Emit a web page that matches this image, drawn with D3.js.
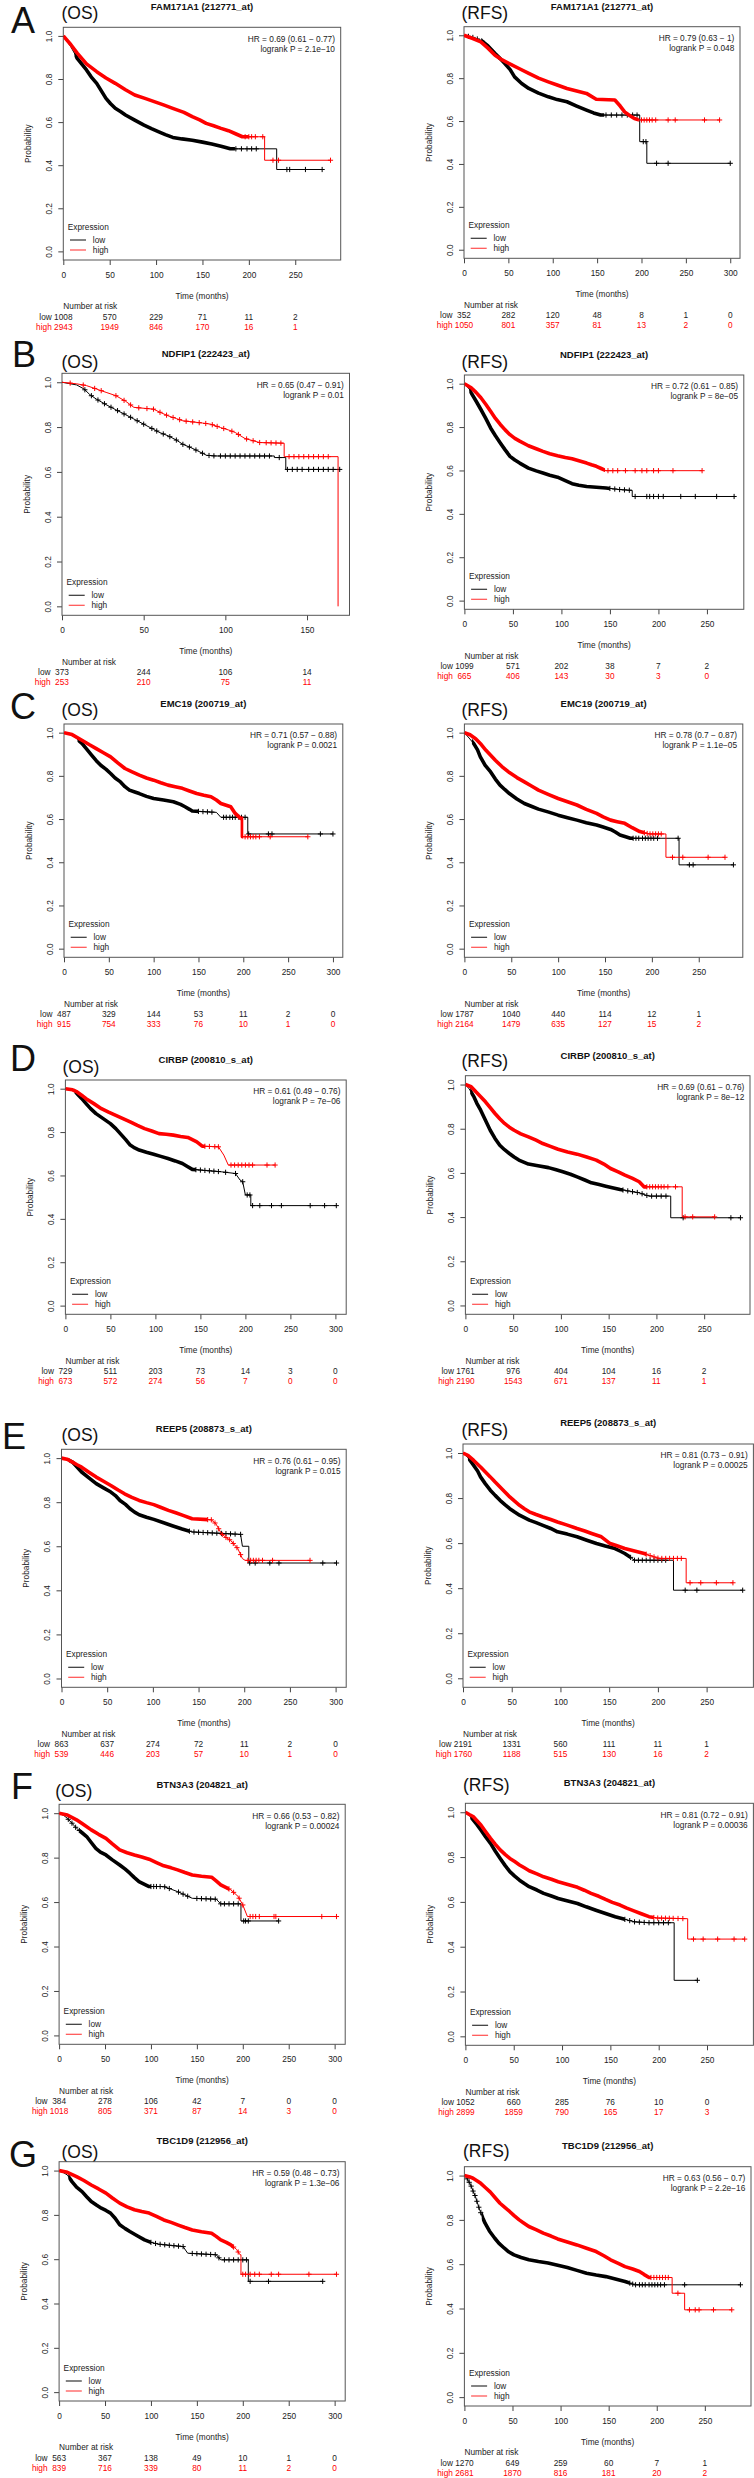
<!DOCTYPE html>
<html><head><meta charset="utf-8">
<script src="https://cdn.jsdelivr.net/npm/d3@7"></script>
<style>
body{margin:0;background:#fff}
svg{display:block}
text{font-family:"Liberation Sans",Arial,Helvetica,sans-serif}
</style>
</head><body>
<svg id="chart" width="754" height="2478"></svg>
<script>
// ---------------- DATA ----------------
const genes = ["FAM171A1 (212771_at)","NDFIP1 (222423_at)","EMC19 (200719_at)","CIRBP (200810_s_at)","REEP5 (208873_s_at)","BTN3A3 (204821_at)","TBC1D9 (212956_at)"];
const rowLetters = ["A","B","C","D","E","F","G"];
const endpoints = ["(OS)","(RFS)"];
const hrLabels = [
 "HR = 0.69 (0.61 \u2212 0.77)","HR = 0.79 (0.63 \u2212 1)",
 "HR = 0.65 (0.47 \u2212 0.91)","HR = 0.72 (0.61 \u2212 0.85)",
 "HR = 0.71 (0.57 \u2212 0.88)","HR = 0.78 (0.7 \u2212 0.87)",
 "HR = 0.61 (0.49 \u2212 0.76)","HR = 0.69 (0.61 \u2212 0.76)",
 "HR = 0.76 (0.61 \u2212 0.95)","HR = 0.81 (0.73 \u2212 0.91)",
 "HR = 0.66 (0.53 \u2212 0.82)","HR = 0.81 (0.72 \u2212 0.91)",
 "HR = 0.59 (0.48 \u2212 0.73)","HR = 0.63 (0.56 \u2212 0.7)"];
const pLabels = [
 "logrank P = 2.1e\u221210","logrank P = 0.048",
 "logrank P = 0.01","logrank P = 8e\u221205",
 "logrank P = 0.0021","logrank P = 1.1e\u221205",
 "logrank P = 7e\u221206","logrank P = 8e\u221212",
 "logrank P = 0.015","logrank P = 0.00025",
 "logrank P = 0.00024","logrank P = 0.00036",
 "logrank P = 1.3e\u221206","logrank P = 2.2e\u221216"];
const groupNames = ["low","high"];
const ticks150 = [0,50,100,150];
const ticks250 = [0,50,100,150,200,250];
const ticks300 = [0,50,100,150,200,250,300];
const yTicks = [0,0.2,0.4,0.6,0.8,1];

// Kaplan-Meier curves [months, survival]; repeated month = vertical drop
const A_OS_low = [[0,1],[8,0.95],[15,0.896],[25,0.842],[30,0.81],[36,0.78],[41,0.745],[46,0.71],[51,0.685],[56,0.664],[62,0.648],[67,0.633],[77,0.609],[87,0.586],[95,0.57],[103,0.555],[110,0.542],[118,0.529],[128,0.522],[139,0.516],[150,0.507],[160,0.498],[170,0.488],[180,0.476],[230,0.476],[230,0.38],[279,0.38]];
const A_OS_high = [[0,1],[8,0.96],[15,0.92],[25,0.87],[36,0.834],[46,0.805],[56,0.78],[67,0.75],[77,0.726],[88,0.71],[98,0.695],[108,0.68],[118,0.664],[130,0.645],[139,0.625],[147,0.61],[154,0.594],[162,0.583],[170,0.571],[178,0.56],[185,0.547],[193,0.532],[217,0.532],[217,0.423],[288,0.423]];
const A_OS_lowCens = [186,192,198,203,208,241,244,261,279];
const A_OS_highCens = [196,200,203,207,215,226,232,288];
const A_OS_riskLow = [1008,570,229,71,11,2];
const A_OS_riskHigh = [2943,1949,846,170,16,1];

const A_RFS_low = [[0,1],[10,0.99],[19,0.977],[27,0.95],[35,0.915],[41,0.89],[46,0.868],[52,0.84],[57,0.806],[65,0.775],[73,0.752],[84,0.73],[95,0.713],[105,0.70],[116,0.69],[127,0.67],[138,0.651],[146,0.638],[154,0.628],[198,0.628],[198,0.504],[206,0.504],[206,0.403],[300,0.403]];
const A_RFS_high = [[0,1],[10,0.985],[19,0.969],[27,0.94],[35,0.907],[43,0.885],[51,0.868],[62,0.845],[73,0.822],[84,0.8],[95,0.783],[105,0.768],[116,0.752],[127,0.74],[138,0.729],[149,0.702],[170,0.698],[176,0.67],[181,0.643],[187,0.625],[192,0.612],[198,0.605],[288,0.605]];
const A_RFS_lowCens = [5,10,15,20,160,166,172,178,184,190,195,202,205,217,230,300];
const A_RFS_highCens = [200,203,206,209,212,216,230,238,271,288];
const A_RFS_riskLow = [352,282,120,48,8,1,0];
const A_RFS_riskHigh = [1050,801,357,81,13,2,0];

const B_OS_low = [[0,1],[9,0.988],[13.5,0.97],[17,0.945],[21,0.925],[27,0.9],[33,0.877],[39,0.855],[44,0.836],[50,0.813],[56,0.79],[60,0.775],[65,0.761],[70,0.742],[74,0.723],[79,0.708],[83,0.694],[88.5,0.674],[94,0.671],[130,0.671],[130,0.664],[137,0.664],[137,0.611],[170,0.611]];
const B_OS_high = [[0,1],[9,0.993],[15,0.985],[21,0.97],[27,0.955],[33,0.94],[39,0.915],[44,0.888],[56,0.88],[60,0.866],[65,0.85],[70,0.838],[74,0.828],[86,0.818],[91,0.813],[97,0.798],[102,0.787],[106,0.776],[112,0.749],[121,0.731],[136,0.728],[136,0.668],[169,0.668],[169,0]];
const B_OS_lowCens = [14,18,22,26,30,34,38,42,46,50,55,58,62,66,70,74,78,82,86,90,93,97,100,103,106,109,112,115,118,121,124,127,133,138,141,144,147,151,154,157,160,163,166,170];
const B_OS_highCens = [5,13,20,24,33,38,42,47,52,56,60,64,68,72,76,80,84,88,92,95,99,104,108,113,117,121,125,128,131,134,139,142,145,148,151,154,157,160,163];
const B_OS_riskLow = [373,244,106,14];
const B_OS_riskHigh = [253,210,75,11];

const B_RFS_low = [[0,1],[5,0.975],[7,0.958],[12,0.92],[17,0.881],[22,0.84],[27,0.796],[32,0.76],[37,0.727],[42,0.695],[47,0.665],[52,0.648],[57,0.634],[66,0.611],[74,0.598],[81,0.588],[88,0.578],[96,0.569],[104,0.553],[111,0.539],[118,0.532],[126,0.526],[146,0.519],[160,0.512],[173,0.508],[173,0.48],[278,0.48]];
const B_RFS_high = [[0,1],[7,0.981],[12,0.96],[17,0.935],[22,0.905],[27,0.873],[32,0.84],[37,0.812],[42,0.787],[47,0.765],[52,0.748],[57,0.735],[66,0.714],[74,0.70],[81,0.688],[88,0.677],[96,0.668],[104,0.66],[111,0.654],[118,0.645],[126,0.634],[131,0.626],[136,0.619],[141,0.609],[146,0.599],[245,0.599]];
const B_RFS_lowCens = [150,155,160,165,170,176,188,191,195,200,205,223,238,260,278];
const B_RFS_highCens = [148,153,158,166,176,183,188,195,200,215,245];
const B_RFS_riskLow = [1099,571,202,38,7,2];
const B_RFS_riskHigh = [665,406,143,30,3,0];

const C_OS_low = [[0,1],[9,0.991],[20,0.95],[26,0.92],[31,0.895],[36,0.87],[41,0.849],[47,0.83],[52,0.811],[57,0.79],[63,0.772],[68,0.75],[73,0.734],[79,0.725],[84,0.718],[92,0.705],[100,0.695],[111,0.688],[122,0.68],[130,0.668],[135,0.657],[140,0.645],[143,0.637],[170,0.631],[175,0.608],[205,0.608],[205,0.531],[300,0.531]];
const C_OS_high = [[0,1],[9,0.991],[20,0.965],[28,0.945],[36,0.926],[44,0.907],[52,0.888],[60,0.86],[68,0.834],[76,0.818],[84,0.803],[92,0.79],[100,0.78],[108,0.768],[116,0.757],[124,0.75],[132,0.742],[140,0.73],[148,0.718],[156,0.71],[164,0.703],[170,0.688],[175,0.672],[186,0.657],[191,0.626],[197,0.603],[199,0.603],[199,0.518],[272,0.518]];
const C_OS_lowCens = [150,155,160,165,178,181,185,188,191,195,198,202,206,228,232,286,300];
const C_OS_highCens = [202,205,208,211,214,218,230,272];
const C_OS_riskLow = [487,329,144,53,11,2,0];
const C_OS_riskHigh = [915,754,333,76,10,1,0];

const C_RFS_low = [[0,1],[5,0.975],[10,0.949],[14,0.92],[17,0.888],[22,0.85],[28,0.818],[33,0.785],[38,0.757],[43,0.737],[48,0.718],[56,0.693],[64,0.672],[72,0.658],[79,0.646],[90,0.632],[100,0.618],[110,0.606],[120,0.595],[130,0.583],[141,0.572],[148,0.563],[156,0.552],[161,0.54],[166,0.526],[172,0.518],[177,0.511],[229,0.511],[229,0.388],[287,0.388]];
const C_RFS_high = [[0,1],[6,0.99],[12,0.972],[18,0.945],[23,0.918],[28,0.895],[33,0.872],[40,0.843],[48,0.815],[56,0.792],[64,0.772],[72,0.752],[79,0.734],[90,0.713],[100,0.695],[110,0.68],[120,0.665],[130,0.645],[141,0.626],[148,0.61],[156,0.595],[163,0.588],[171,0.58],[179,0.56],[187,0.542],[197,0.531],[215,0.531],[215,0.423],[278,0.423]];
const C_RFS_lowCens = [180,183,186,190,193,196,199,202,206,228,240,244,287];
const C_RFS_highCens = [192,195,198,201,204,207,210,222,233,260,278];
const C_RFS_riskLow = [1787,1040,440,114,12,1];
const C_RFS_riskHigh = [2164,1479,635,127,15,2];

const D_OS_low = [[0,1],[8,0.995],[13,0.977],[18,0.955],[23,0.931],[28,0.908],[34,0.885],[42,0.862],[50,0.839],[56,0.816],[61,0.793],[67,0.765],[72,0.74],[77,0.727],[82,0.717],[90,0.707],[98,0.698],[106,0.688],[114,0.678],[122,0.667],[130,0.655],[136,0.64],[141,0.628],[173,0.617],[189,0.609],[194,0.579],[197,0.571],[200,0.51],[206,0.51],[206,0.461],[301,0.461]];
const D_OS_high = [[0,1],[8,0.995],[13,0.985],[18,0.97],[23,0.954],[32,0.93],[40,0.908],[48,0.892],[56,0.877],[64,0.862],[72,0.847],[80,0.831],[88,0.816],[96,0.805],[104,0.793],[112,0.79],[120,0.786],[128,0.78],[136,0.775],[141,0.765],[146,0.755],[152,0.735],[170,0.732],[176,0.694],[181,0.648],[233,0.648]];
const D_OS_lowCens = [145,150,155,160,165,170,178,189,197,202,205,208,216,229,240,272,288,301];
const D_OS_highCens = [155,160,166,170,184,188,192,196,200,204,208,224,233];
const D_OS_riskLow = [729,511,203,73,14,3,0];
const D_OS_riskHigh = [673,572,274,56,7,0,0];

const D_RFS_low = [[0,1],[4,0.98],[9,0.944],[12,0.915],[16,0.884],[21,0.838],[26,0.793],[31,0.756],[36,0.725],[41,0.705],[46,0.688],[51,0.672],[56,0.658],[66,0.64],[76,0.632],[87,0.624],[95,0.614],[102,0.605],[110,0.594],[117,0.582],[125,0.568],[132,0.555],[140,0.547],[147,0.54],[155,0.532],[162,0.525],[172,0.517],[182,0.51],[192,0.495],[215,0.495],[215,0.397],[288,0.397]];
const D_RFS_high = [[0,1],[6,0.99],[11,0.967],[16,0.945],[21,0.922],[26,0.895],[31,0.869],[36,0.845],[41,0.824],[46,0.807],[51,0.793],[58,0.777],[66,0.763],[74,0.748],[81,0.733],[89,0.72],[97,0.707],[107,0.695],[117,0.685],[127,0.672],[137,0.658],[145,0.64],[152,0.62],[160,0.605],[167,0.59],[175,0.575],[182,0.56],[187,0.537],[227,0.537],[227,0.401],[261,0.401]];
const D_RFS_lowCens = [165,170,175,180,185,190,195,200,205,210,228,278,288];
const D_RFS_highCens = [190,193,196,199,202,205,208,212,220,230,238,261];
const D_RFS_riskLow = [1761,976,404,104,16,2];
const D_RFS_riskHigh = [2190,1543,671,137,11,1];

const E_OS_low = [[0,1],[6,0.995],[12,0.982],[17,0.96],[22,0.937],[30,0.91],[38,0.884],[46,0.865],[54,0.846],[59,0.83],[64,0.808],[70,0.79],[75,0.77],[80,0.755],[85,0.743],[93,0.732],[101,0.722],[111,0.708],[122,0.692],[132,0.678],[143,0.665],[196,0.654],[198,0.6],[205,0.6],[205,0.524],[301,0.524]];
const E_OS_high = [[0,1],[6,0.995],[12,0.982],[17,0.97],[22,0.959],[30,0.936],[38,0.914],[46,0.895],[54,0.876],[62,0.855],[69,0.838],[77,0.822],[85,0.808],[93,0.798],[101,0.789],[109,0.776],[117,0.763],[125,0.752],[133,0.74],[143,0.725],[164,0.72],[169,0.702],[175,0.657],[180,0.64],[185,0.627],[193,0.589],[198,0.544],[201,0.536],[272,0.536]];
const E_OS_lowCens = [140,145,150,155,160,165,170,175,180,185,190,196,206,212,228,238,286,301];
const E_OS_highCens = [160,164,168,172,176,180,184,188,192,196,204,207,210,213,216,220,231,272];
const E_OS_riskLow = [863,637,274,72,11,2,0];
const E_OS_riskHigh = [539,446,203,57,10,1,0];

const E_RFS_low = [[0,1],[5,0.98],[11,0.945],[15,0.92],[18,0.894],[23,0.863],[28,0.835],[33,0.812],[38,0.79],[43,0.771],[48,0.753],[53,0.738],[58,0.724],[63,0.713],[68,0.702],[75,0.691],[82,0.679],[90,0.665],[97,0.65],[107,0.64],[117,0.628],[127,0.613],[137,0.598],[146,0.587],[156,0.576],[161,0.565],[166,0.554],[171,0.54],[176,0.524],[216,0.524],[216,0.391],[287,0.391]];
const E_RFS_high = [[0,1],[5,0.99],[11,0.967],[18,0.938],[23,0.916],[28,0.894],[33,0.871],[38,0.849],[43,0.827],[48,0.805],[53,0.786],[58,0.768],[63,0.753],[68,0.739],[75,0.727],[82,0.716],[90,0.705],[97,0.694],[107,0.68],[117,0.665],[125,0.654],[132,0.643],[142,0.628],[151,0.598],[158,0.588],[166,0.576],[176,0.565],[186,0.554],[193,0.543],[201,0.532],[229,0.532],[229,0.424],[277,0.424]];
const E_RFS_lowCens = [172,176,180,184,188,192,196,200,204,208,228,240,287];
const E_RFS_highCens = [188,192,196,200,204,208,212,216,220,224,233,244,260,277];
const E_RFS_riskLow = [2191,1331,560,111,11,1];
const E_RFS_riskHigh = [1760,1188,515,130,16,2];

const F_OS_low = [[0,1],[5,0.99],[9,0.977],[14,0.955],[19,0.932],[25,0.912],[30,0.895],[35,0.868],[40,0.842],[45,0.825],[51,0.812],[58,0.79],[66,0.767],[72,0.748],[77,0.73],[82,0.71],[87,0.692],[93,0.68],[98,0.67],[114,0.67],[122,0.658],[129,0.647],[137,0.632],[145,0.617],[171,0.613],[176,0.592],[198,0.592],[198,0.515],[239,0.515]];
const F_OS_high = [[0,1],[9,0.992],[19,0.97],[27,0.948],[35,0.925],[43,0.905],[51,0.887],[58,0.862],[66,0.835],[74,0.822],[82,0.812],[90,0.803],[98,0.793],[106,0.778],[114,0.763],[122,0.754],[129,0.745],[137,0.733],[145,0.722],[155,0.716],[166,0.712],[171,0.695],[176,0.677],[182,0.665],[187,0.655],[195,0.625],[200,0.587],[205,0.535],[302,0.535]];
const F_OS_lowCens = [10,14,18,22,100,103,106,110,115,120,130,135,140,150,155,160,165,170,176,180,185,190,195,201,203,206,239];
const F_OS_highCens = [185,190,196,200,208,211,214,218,234,236,286,302];
const F_OS_riskLow = [384,278,106,42,7,0,0];
const F_OS_riskHigh = [1018,805,371,87,14,3,0];

const F_RFS_low = [[0,1],[4,0.985],[8,0.966],[12,0.945],[16,0.921],[21,0.89],[26,0.861],[31,0.826],[36,0.794],[41,0.763],[46,0.735],[51,0.715],[56,0.697],[61,0.682],[66,0.668],[74,0.653],[81,0.638],[89,0.626],[96,0.615],[106,0.604],[116,0.593],[125,0.578],[135,0.563],[145,0.548],[155,0.534],[165,0.522],[175,0.511],[190,0.507],[216,0.507],[216,0.25],[240,0.25]];
const F_RFS_high = [[0,1],[4,0.99],[8,0.981],[12,0.962],[16,0.943],[21,0.913],[26,0.884],[31,0.857],[36,0.832],[41,0.812],[46,0.794],[51,0.78],[56,0.765],[61,0.752],[66,0.739],[74,0.725],[81,0.712],[89,0.701],[96,0.69],[106,0.678],[116,0.665],[123,0.652],[130,0.638],[138,0.625],[145,0.611],[152,0.598],[160,0.586],[167,0.572],[175,0.559],[182,0.547],[190,0.534],[198,0.528],[230,0.525],[230,0.434],[289,0.434]];
const F_RFS_lowCens = [165,170,175,180,185,190,195,200,205,210,240];
const F_RFS_highCens = [195,199,203,207,211,215,220,225,236,246,261,278,289];
const F_RFS_riskLow = [1052,660,285,76,10,0];
const F_RFS_riskHigh = [2899,1859,790,165,17,3];

const G_OS_low = [[0,1],[5,0.99],[9,0.98],[14,0.95],[19,0.925],[25,0.905],[30,0.882],[35,0.86],[41,0.843],[46,0.83],[51,0.82],[56,0.808],[61,0.785],[66,0.755],[72,0.738],[77,0.725],[85,0.706],[93,0.687],[100,0.676],[108,0.668],[122,0.662],[135,0.657],[140,0.627],[171,0.62],[176,0.597],[206,0.597],[206,0.5],[287,0.5]];
const G_OS_high = [[0,1],[9,0.992],[19,0.973],[27,0.955],[35,0.935],[43,0.917],[51,0.898],[58,0.876],[66,0.853],[74,0.836],[82,0.823],[90,0.815],[98,0.808],[106,0.793],[114,0.777],[122,0.766],[129,0.755],[137,0.743],[145,0.732],[155,0.724],[166,0.717],[171,0.703],[176,0.687],[182,0.676],[187,0.665],[193,0.645],[197,0.62],[198,0.62],[198,0.532],[302,0.532]];
const G_OS_lowCens = [100,105,110,115,120,125,130,135,145,150,155,160,165,170,174,180,185,190,195,200,204,208,228,287];
const G_OS_highCens = [190,195,200,203,208,213,218,231,239,272,302];
const G_OS_riskLow = [563,367,138,49,10,1,0];
const G_OS_riskHigh = [839,716,339,80,11,2,0];

const G_RFS_low = [[0,1],[3,0.985],[6.5,0.958],[9,0.93],[11.5,0.905],[14,0.87],[16.5,0.838],[19,0.81],[21.5,0.785],[26,0.75],[31.6,0.717],[36,0.694],[41.6,0.672],[46,0.656],[51.6,0.642],[59,0.63],[67,0.62],[77,0.612],[87,0.605],[97,0.595],[107,0.585],[117,0.572],[127,0.559],[137,0.551],[147,0.544],[157,0.533],[167,0.522],[177,0.507],[287,0.507]];
const G_RFS_high = [[0,1],[5,0.995],[9,0.988],[13,0.977],[17,0.965],[22,0.945],[27,0.925],[32,0.9],[37,0.875],[42,0.856],[47,0.838],[52,0.818],[57,0.8],[62,0.785],[67,0.77],[75,0.755],[82,0.74],[90,0.727],[97,0.714],[107,0.7],[117,0.687],[127,0.672],[137,0.657],[145,0.638],[152,0.62],[160,0.604],[167,0.589],[175,0.578],[182,0.567],[187,0.553],[192,0.54],[216,0.54],[216,0.469],[229,0.469],[229,0.394],[278,0.394]];
const G_RFS_lowCens = [3,5,7,9,11,13,15,17,172,175,178,182,185,188,192,195,198,201,204,208,229,287];
const G_RFS_highCens = [194,197,200,203,206,209,212,222,234,240,244,259,278];
const G_RFS_riskLow = [1270,649,259,60,7,1];
const G_RFS_riskHigh = [2681,1870,816,181,20,2];

// ---------------- LAYOUT (positions / styles only) ----------------
const letterPos = [[11,20],[12,354.5],[10,706],[10,1058],[2,1436],[11,1786.5],[9,2154]];
const panels = [
 {row:0,col:0,box:[63.3,27.3,340.7,260],xmax:299,ticks:ticks250,tagX:61.5,tagY:12.7,titleY:7,
  low:A_OS_low,high:A_OS_high,lowC:A_OS_lowCens,highC:A_OS_highCens,rl:A_OS_riskLow,rh:A_OS_riskHigh,bandLow:[12,185],bandHigh:[0,200]},
 {row:0,col:1,box:[464,26.7,740,258.3],xmax:311,ticks:ticks300,tagX:461.5,tagY:12.3,titleY:7,
  low:A_RFS_low,high:A_RFS_high,lowC:A_RFS_lowCens,highC:A_RFS_highCens,rl:A_RFS_riskLow,rh:A_RFS_riskHigh,bandLow:[20,158],bandHigh:[0,197]},
 {row:1,col:0,box:[62,373.3,349.5,615.3],xmax:176,ticks:ticks150,tagX:61.5,tagY:361.7,titleY:354,
  low:B_OS_low,high:B_OS_high,lowC:B_OS_lowCens,highC:B_OS_highCens,rl:B_OS_riskLow,rh:B_OS_riskHigh,bandLow:[0,0],bandHigh:[0,0]},
 {row:1,col:1,box:[464.4,375,743.8,609.3],xmax:288,ticks:ticks250,tagX:461.5,tagY:361.7,titleY:355,
  low:B_RFS_low,high:B_RFS_high,lowC:B_RFS_lowCens,highC:B_RFS_highCens,rl:B_RFS_riskLow,rh:B_RFS_riskHigh,bandLow:[5,150],bandHigh:[0,145]},
 {row:2,col:0,box:[64,724,342.8,957.3],xmax:311,ticks:ticks300,tagX:61.5,tagY:710,titleY:703.3,
  low:C_OS_low,high:C_OS_high,lowC:C_OS_lowCens,highC:C_OS_highCens,rl:C_OS_riskLow,rh:C_OS_riskHigh,bandLow:[15,150],bandHigh:[0,200]},
 {row:2,col:1,box:[464.4,724,742.8,957.3],xmax:297,ticks:ticks250,tagX:461.5,tagY:710,titleY:703.3,
  low:C_RFS_low,high:C_RFS_high,lowC:C_RFS_lowCens,highC:C_RFS_highCens,rl:C_RFS_riskLow,rh:C_RFS_riskHigh,bandLow:[8,180],bandHigh:[0,192]},
 {row:3,col:0,box:[65.4,1080,346.2,1314.3],xmax:312,ticks:ticks300,tagX:62.5,tagY:1066.7,titleY:1059.3,
  low:D_OS_low,high:D_OS_high,lowC:D_OS_lowCens,highC:D_OS_highCens,rl:D_OS_riskLow,rh:D_OS_riskHigh,bandLow:[10,145],bandHigh:[0,155]},
 {row:3,col:1,box:[465.4,1075.7,750,1314.3],xmax:298,ticks:ticks250,tagX:461.5,tagY:1060.7,titleY:1055.7,
  low:D_RFS_low,high:D_RFS_high,lowC:D_RFS_lowCens,highC:D_RFS_highCens,rl:D_RFS_riskLow,rh:D_RFS_riskHigh,bandLow:[5,165],bandHigh:[0,190]},
 {row:4,col:0,box:[61.5,1449.3,346.2,1687.3],xmax:311.6,ticks:ticks300,tagX:61.5,tagY:1435,titleY:1428.3,
  low:E_OS_low,high:E_OS_high,lowC:E_OS_lowCens,highC:E_OS_highCens,rl:E_OS_riskLow,rh:E_OS_riskHigh,bandLow:[8,140],bandHigh:[0,160]},
 {row:4,col:1,box:[463,1444,753.4,1687.3],xmax:298,ticks:ticks250,tagX:461.5,tagY:1429.3,titleY:1422.7,
  low:E_RFS_low,high:E_RFS_high,lowC:E_RFS_lowCens,highC:E_RFS_highCens,rl:E_RFS_riskLow,rh:E_RFS_riskHigh,bandLow:[5,172],bandHigh:[0,188]},
 {row:5,col:0,box:[59.1,1804.3,345.2,2044.3],xmax:311.5,ticks:ticks300,tagX:55.3,tagY:1790.7,titleY:1784.3,
  low:F_OS_low,high:F_OS_high,lowC:F_OS_lowCens,highC:F_OS_highCens,rl:F_OS_riskLow,rh:F_OS_riskHigh,bandLow:[22,100],bandHigh:[0,185]},
 {row:5,col:1,box:[465.4,1803.3,753.4,2045.3],xmax:298,ticks:ticks250,tagX:463,tagY:1785,titleY:1782.7,
  low:F_RFS_low,high:F_RFS_high,lowC:F_RFS_lowCens,highC:F_RFS_highCens,rl:F_RFS_riskLow,rh:F_RFS_riskHigh,bandLow:[5,165],bandHigh:[0,195]},
 {row:6,col:0,box:[59.1,2161.7,345.2,2401],xmax:311.5,ticks:ticks300,tagX:61.5,tagY:2151.7,titleY:2141,
  low:G_OS_low,high:G_OS_high,lowC:G_OS_lowCens,highC:G_OS_highCens,rl:G_OS_riskLow,rh:G_OS_riskHigh,bandLow:[10,100],bandHigh:[0,190]},
 {row:6,col:1,box:[464.4,2166.7,751,2406],xmax:298,ticks:ticks250,tagX:463,tagY:2151,titleY:2145.7,
  low:G_RFS_low,high:G_RFS_high,lowC:G_RFS_lowCens,highC:G_RFS_highCens,rl:G_RFS_riskLow,rh:G_RFS_riskHigh,bandLow:[18,172],bandHigh:[0,194]}
];

// ---------------- DRAW ----------------
const svg = d3.select("#chart");
const FS = 8.3;
const colLow = "#000", colHigh = "#ff0000";

rowLetters.forEach((L,i)=>{
  svg.append("text").attr("x",letterPos[i][0]).attr("y",letterPos[i][1]).attr("dy","0.36em")
    .attr("font-size",36).attr("fill","#111").text(L);
});

function valAt(c,t){
  for(let i=0;i<c.length-1;i++){
    const a=c[i], b=c[i+1];
    if(b[0]===a[0]) continue;
    if(t>=a[0] && t<=b[0]) return a[1]+(b[1]-a[1])*(t-a[0])/(b[0]-a[0]);
  }
  return c[c.length-1][1];
}

panels.forEach((p,pi)=>{
  const [l,t,r,b] = p.box;
  const x = d3.scaleLinear().domain([0,p.xmax]).range([l,r]);
  const y = d3.scaleLinear().domain([-0.04,1.04]).range([b,t]);
  const g = svg.append("g");

  // header
  g.append("text").attr("x",p.tagX).attr("y",p.tagY).attr("dy","0.36em").attr("font-size",17.5).attr("fill","#111").text(endpoints[p.col]);
  g.append("text").attr("x",(l+r)/2).attr("y",p.titleY).attr("dy","0.36em").attr("text-anchor","middle")
    .attr("font-size",9.5).attr("font-weight","bold").attr("fill","#111").text(genes[p.row]);

  // axes
  const xa = g.append("g").attr("transform",`translate(0,${b})`)
    .call(d3.axisBottom(x).tickValues(p.ticks).tickSize(5).tickSizeOuter(0).tickPadding(7));
  xa.select(".domain").remove();
  xa.selectAll("text").attr("font-size",FS).attr("font-family",null).attr("fill","#222");
  xa.selectAll("line").attr("stroke","#444");
  const ya = g.append("g").attr("transform",`translate(${l},0)`)
    .call(d3.axisLeft(y).tickValues(yTicks).tickFormat(d3.format(".1f")).tickSize(5).tickSizeOuter(0));
  ya.select(".domain").remove();
  ya.selectAll("line").attr("stroke","#444");
  ya.selectAll("text").attr("font-size",FS).attr("font-family",null).attr("fill","#222")
    .attr("x",null).attr("dy","0.35em").attr("text-anchor","middle")
    .attr("transform","translate(-14,0) rotate(-90)");

  g.append("text").attr("transform",`translate(${l-35},${(y(0)+y(1))/2}) rotate(-90)`)
    .attr("dy","0.35em").attr("text-anchor","middle").attr("font-size",FS).attr("fill","#222").text("Probability");
  g.append("text").attr("x",(l+r)/2).attr("y",b+36).attr("dy","0.35em").attr("text-anchor","middle")
    .attr("font-size",FS).attr("fill","#222").text("Time (months)");

  // box
  g.append("rect").attr("x",l).attr("y",t).attr("width",r-l).attr("height",b-t)
    .attr("fill","none").attr("stroke","#555").attr("stroke-width",1);

  // clip for plot area
  const cid = "clip"+pi;
  svg.append("clipPath").attr("id",cid).append("rect").attr("x",l).attr("y",t).attr("width",r-l).attr("height",b-t);
  const plot = g.append("g").attr("clip-path",`url(#${cid})`);

  const line = d3.line().x(d=>x(d[0])).y(d=>y(d[1]));
  const series = [
    {c:p.low, cens:p.lowC, col:colLow, band:p.bandLow},
    {c:p.high, cens:p.highC, col:colHigh, band:p.bandHigh}
  ];
  series.forEach((s,si)=>{
    plot.append("path").attr("d",line(s.c)).attr("fill","none").attr("stroke",s.col).attr("stroke-width",1);
    if(s.band[1]>s.band[0]){
      const bid = `band${pi}_${si}`;
      svg.append("clipPath").attr("id",bid).append("rect")
        .attr("x",x(s.band[0])).attr("y",t).attr("width",x(s.band[1])-x(s.band[0])).attr("height",b-t);
      plot.append("g").attr("clip-path",`url(#${bid})`).append("path").attr("d",line(s.c))
        .attr("fill","none").attr("stroke",s.col).attr("stroke-width",3.6).attr("stroke-linejoin","round");
    }
    const m = 2.6;
    plot.append("path").attr("d", s.cens.map(tt=>{
        const cx=x(tt), cy=y(valAt(s.c,tt));
        return `M${cx-m},${cy}h${2*m}M${cx},${cy-m}v${2*m}`;
      }).join("")).attr("fill","none").attr("stroke",s.col).attr("stroke-width",1);
  });

  // HR text
  g.append("text").attr("x",r-5.7).attr("y",t+11.5).attr("dy","0.35em").attr("text-anchor","end")
    .attr("font-size",FS).attr("fill","#222").text(hrLabels[pi]);
  g.append("text").attr("x",r-5.7).attr("y",t+21.5).attr("dy","0.35em").attr("text-anchor","end")
    .attr("font-size",FS).attr("fill","#222").text(pLabels[pi]);

  // legend
  g.append("text").attr("x",l+4.5).attr("y",b-33).attr("dy","0.35em").attr("font-size",FS).attr("fill","#222").text("Expression");
  [[groupNames[0],"#333",b-20],[groupNames[1],"#ff4d4d",b-10]].forEach(([nm,cl,yy])=>{
    g.append("line").attr("x1",l+6.7).attr("x2",l+22.7).attr("y1",yy).attr("y2",yy).attr("stroke",cl).attr("stroke-width",1.2);
    g.append("text").attr("x",l+29.5).attr("y",yy).attr("dy","0.35em").attr("font-size",FS).attr("fill","#222").text(nm);
  });

  // number at risk
  g.append("text").attr("x",l).attr("y",b+46.3).attr("dy","0.35em").attr("font-size",FS).attr("fill","#222").text("Number at risk");
  [[groupNames[0],p.rl,"#222",b+56.8],[groupNames[1],p.rh,"#ff0000",b+67]].forEach(([nm,vals,cl,yy])=>{
    g.append("text").attr("x",x(0)-11.5).attr("y",yy).attr("dy","0.35em").attr("text-anchor","end")
      .attr("font-size",FS).attr("fill",cl).text(nm);
    g.selectAll(null).data(vals).enter().append("text")
      .attr("x",(d,i)=>x(p.ticks[i])).attr("y",yy).attr("dy","0.35em").attr("text-anchor","middle")
      .attr("font-size",FS).attr("fill",cl).text(d=>d);
  });
});
</script>
</body></html>
